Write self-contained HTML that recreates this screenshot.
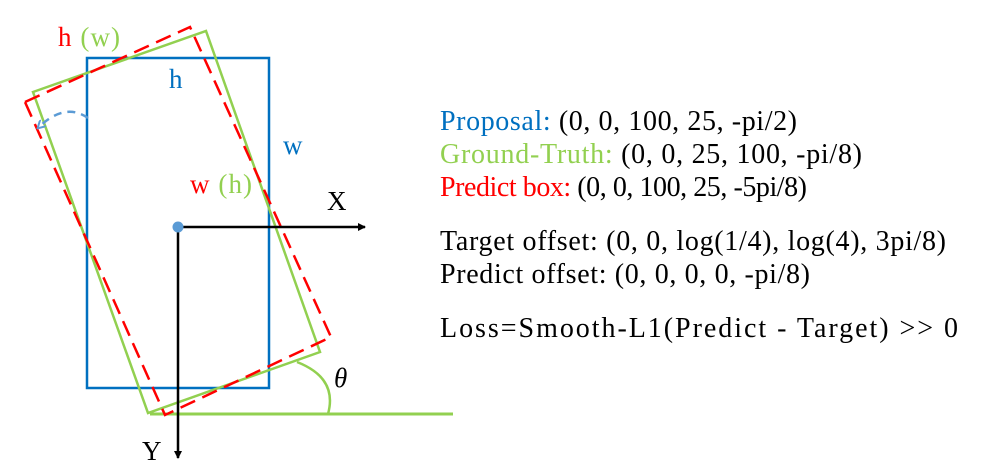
<!DOCTYPE html>
<html><head><meta charset="utf-8"><style>
html,body{margin:0;padding:0;background:#fff;width:987px;height:473px;overflow:hidden}
svg{display:block;font-family:"Liberation Serif",serif}
</style></head><body>
<svg width="987" height="473" viewBox="0 0 987 473">
<defs>
<marker id="ah" markerWidth="8" markerHeight="8" refX="7" refY="4" orient="auto" markerUnits="userSpaceOnUse"><path d="M0,0 L8,4 L0,8 z" fill="#000"/></marker>
<marker id="ab" markerWidth="9" markerHeight="9" refX="6" refY="4.5" orient="auto" markerUnits="userSpaceOnUse"><path d="M0,0 L8,4.5 L0,9" fill="none" stroke="#5b9bd5" stroke-width="2"/></marker>
</defs>
<line x1="150" y1="414" x2="453" y2="414" stroke="#92d050" stroke-width="3"/>
<rect x="87" y="58" width="182" height="330" fill="none" stroke="#0070c0" stroke-width="2.5"/>
<polygon points="33,92 206,31 320,352 148,413" fill="none" stroke="#92d050" stroke-width="2.5"/>
<polygon points="25,102 190,27 331,337 165,415" fill="none" stroke="#ff0000" stroke-width="2.5" stroke-dasharray="16,8"/>
<path d="M88,118 Q65,102 39,127" fill="none" stroke="#5b9bd5" stroke-width="2.5" stroke-dasharray="8,6" marker-end="url(#ab)"/>
<path d="M297,362 Q338,378 328,414" fill="none" stroke="#92d050" stroke-width="2.5"/>
<line x1="178" y1="227" x2="365" y2="227" stroke="#000" stroke-width="2.5" marker-end="url(#ah)"/>
<line x1="178" y1="227" x2="178" y2="458" stroke="#000" stroke-width="2.5" marker-end="url(#ah)"/>
<circle cx="178" cy="227" r="5.5" fill="#5b9bd5"/>
<g font-size="27">
<text x="58" y="46" textLength="62"><tspan fill="#ff0000">h</tspan><tspan fill="#92d050"> (w)</tspan></text>
<text x="169" y="88" fill="#0070c0">h</text>
<text x="283" y="154" fill="#0070c0">w</text>
<text x="190" y="193" textLength="62"><tspan fill="#ff0000">w</tspan><tspan fill="#92d050"> (h)</tspan></text>
<text x="327" y="210">X</text>
<text x="142" y="460">Y</text>
<text x="334" y="387" font-style="italic">θ</text>
</g>
<g font-size="28" lengthAdjust="spacingAndGlyphs">
<text x="440" y="130" textLength="357"><tspan fill="#0070c0">Proposal:</tspan> (0, 0, 100, 25, -pi/2)</text>
<text x="440" y="163" textLength="422"><tspan fill="#92d050">Ground-Truth:</tspan> (0, 0, 25, 100, -pi/8)</text>
<text x="440" y="196" textLength="367"><tspan fill="#ff0000">Predict box:</tspan> (0, 0, 100, 25, -5pi/8)</text>
<text x="440" y="250" textLength="506">Target offset: (0, 0, log(1/4), log(4), 3pi/8)</text>
<text x="440" y="283" textLength="370">Predict offset: (0, 0, 0, 0, -pi/8)</text>
<text x="440" y="337" textLength="518">Loss=Smooth-L1(Predict - Target) &gt;&gt; 0</text>
</g>
</svg>
</body></html>
